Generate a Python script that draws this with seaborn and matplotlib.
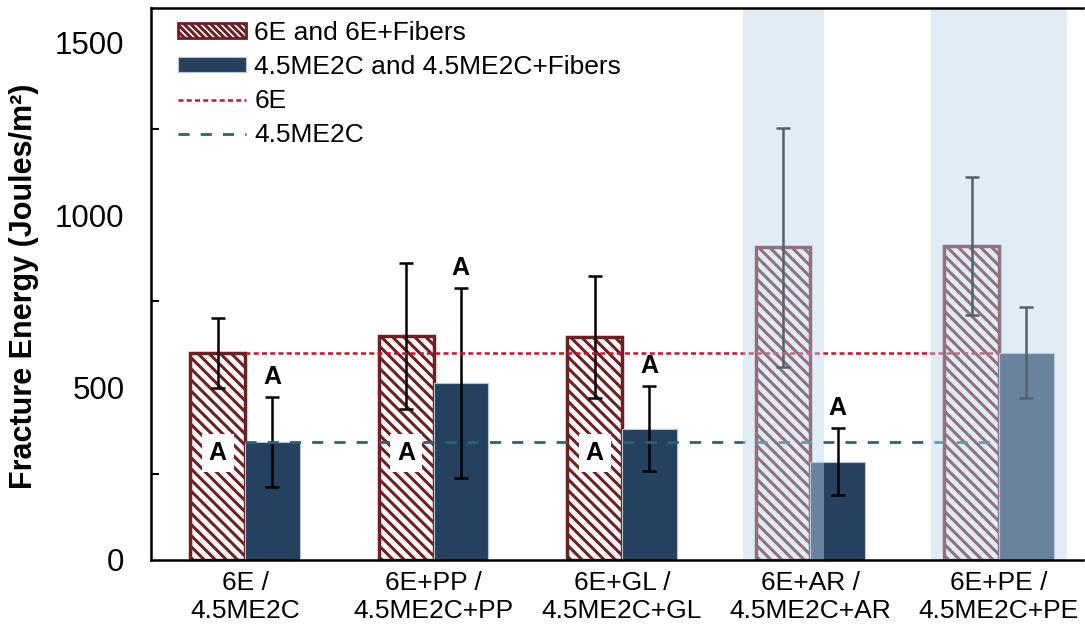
import matplotlib
matplotlib.use("Agg")
import matplotlib.pyplot as plt
import matplotlib.patches as mpatches
import matplotlib.lines as mlines
import pandas as pd
import seaborn as sns

# data
groups = ["6E /\n4.5ME2C", "6E+PP /\n4.5ME2C+PP", "6E+GL /\n4.5ME2C+GL",
          "6E+AR /\n4.5ME2C+AR", "6E+PE /\n4.5ME2C+PE"]
epoxy_mean = [600, 650, 645, 907, 910]
epoxy_err = [101, 212, 177, 347, 200]
me2c_mean = [342, 512, 380, 284, 601]
me2c_err = [130, 276, 123, 97, 132]
epoxy_letters = ["A", "A", "A", "", ""]
me2c_letters = ["A", "A", "A", "A", ""]
epoxy_highlight = [False, False, False, True, True]
me2c_highlight = [False, False, False, False, True]
baseline_6e = 600
baseline_me2c = 342

series = ["6E and 6E+Fibers", "4.5ME2C and 4.5ME2C+Fibers"]

df = pd.DataFrame({
    "group": groups * 2,
    "energy": epoxy_mean + me2c_mean,
    "series": [series[0]] * len(groups) + [series[1]] * len(groups),
})

RED = "#6e1f22"
NAVY = "#26405f"
LINE_RED = "#c8102e"
TEAL = "#2b6373"

sns.set_style("white")
plt.rcParams["font.family"] = ["Liberation Sans", "DejaVu Sans"]
plt.rcParams["hatch.linewidth"] = 2.2
for key in ["text.color", "axes.labelcolor", "xtick.color", "ytick.color"]:
    plt.rcParams[key] = "black"

fig = plt.figure(figsize=(10.85, 6.34), dpi=100)
ax = fig.add_axes([0.139, 0.117, 0.859, 0.870])

sns.barplot(data=df, x="group", y="energy", hue="series", hue_order=series,
            palette={series[0]: "white", series[1]: NAVY}, width=0.58,
            errorbar=None, legend=False, ax=ax, zorder=2)

epoxy_bars = ax.containers[0].patches
me2c_bars = ax.containers[1].patches
for p in epoxy_bars:
    p.set_facecolor("white")
    p.set_edgecolor(RED)
    p.set_hatch("\\\\\\")
    p.set_linewidth(2.5)
for p in me2c_bars:
    p.set_facecolor(NAVY)
    p.set_edgecolor("#b4c2d2")
    p.set_linewidth(0.8)

# error bars
for bars, means, errs in [(epoxy_bars, epoxy_mean, epoxy_err),
                          (me2c_bars, me2c_mean, me2c_err)]:
    xs = [p.get_x() + p.get_width() / 2 for p in bars]
    ax.errorbar(xs, means, yerr=errs, fmt="none", ecolor="black",
                elinewidth=1.8, capsize=5, capthick=1.8, zorder=3)

# control reference lines
xi = list(range(len(groups)))
ax.plot(xi, [baseline_6e] * len(xi), color=LINE_RED, lw=1.8,
        linestyle=(0, (2, 1.3)), zorder=4)
ax.plot(xi, [baseline_me2c] * len(xi), color=TEAL, lw=2.0,
        linestyle=(0, (4, 4)), zorder=4)

# significance letters
for p, letter in zip(epoxy_bars, epoxy_letters):
    if letter:
        ax.text(p.get_x() + p.get_width() / 2, 310, letter, ha="center",
                va="center", fontsize=18, fontweight="bold", zorder=5,
                bbox=dict(facecolor="white", edgecolor="none", pad=5))
for p, letter, m, e in zip(me2c_bars, me2c_letters, me2c_mean, me2c_err):
    if letter:
        ax.annotate(letter, (p.get_x() + p.get_width() / 2, m + e),
                    xytext=(0, 6), textcoords="offset points", ha="center",
                    va="bottom", fontsize=18, fontweight="bold", zorder=5)

# light blue highlight over selected bars
pad = 0.07
for i in range(len(groups)):
    sel = []
    if epoxy_highlight[i]:
        sel.append(epoxy_bars[i])
    if me2c_highlight[i]:
        sel.append(me2c_bars[i])
    if sel:
        x0 = min(p.get_x() for p in sel) - pad
        x1 = max(p.get_x() + p.get_width() for p in sel) + pad
        ax.axvspan(x0, x1, color="#bcd7ed", alpha=0.45, lw=0, zorder=6)

ax.set_xlim(-0.5, 4.445)
ax.set_ylim(0, 1600)
ax.set_yticks([0, 500, 1000, 1500])
ax.set_yticks([250, 750, 1250], minor=True)
ax.tick_params(axis="y", which="major", direction="in", length=8, width=1.5,
               labelsize=22.5, pad=19)
ax.tick_params(axis="y", which="minor", direction="in", length=6, width=1.5,
               left=True)
ax.tick_params(axis="x", length=0, labelsize=19, pad=8)
ax.set_xlabel("")
ax.set_ylabel("Fracture Energy (Joules/m²)", fontsize=22, fontweight="bold")
ax.yaxis.set_label_coords(-0.12, 0.495)

for side in ["left", "top", "bottom"]:
    ax.spines[side].set_linewidth(1.8)
    ax.spines[side].set_color("black")
    ax.spines[side].set_zorder(10)
ax.spines["right"].set_visible(False)

handles = [
    mpatches.Patch(facecolor="white", edgecolor=RED, hatch="\\\\\\\\\\", lw=2),
    mpatches.Patch(facecolor=NAVY, edgecolor="#b4c2d2", lw=0.8),
    mlines.Line2D([], [], color=LINE_RED, lw=1.8, linestyle=(0, (2, 1.3))),
    mlines.Line2D([], [], color=TEAL, lw=2.0, linestyle=(0, (4, 4))),
]
labels = series + ["6E", "4.5ME2C"]
ax.legend(handles, labels, loc="upper left", bbox_to_anchor=(0.012, 1.005),
          frameon=False, fontsize=19, handlelength=2.6, handleheight=0.5,
          handletextpad=0.3, labelspacing=0.38, borderaxespad=0.2)

plt.savefig("out.png", dpi=100)
plt.close()
